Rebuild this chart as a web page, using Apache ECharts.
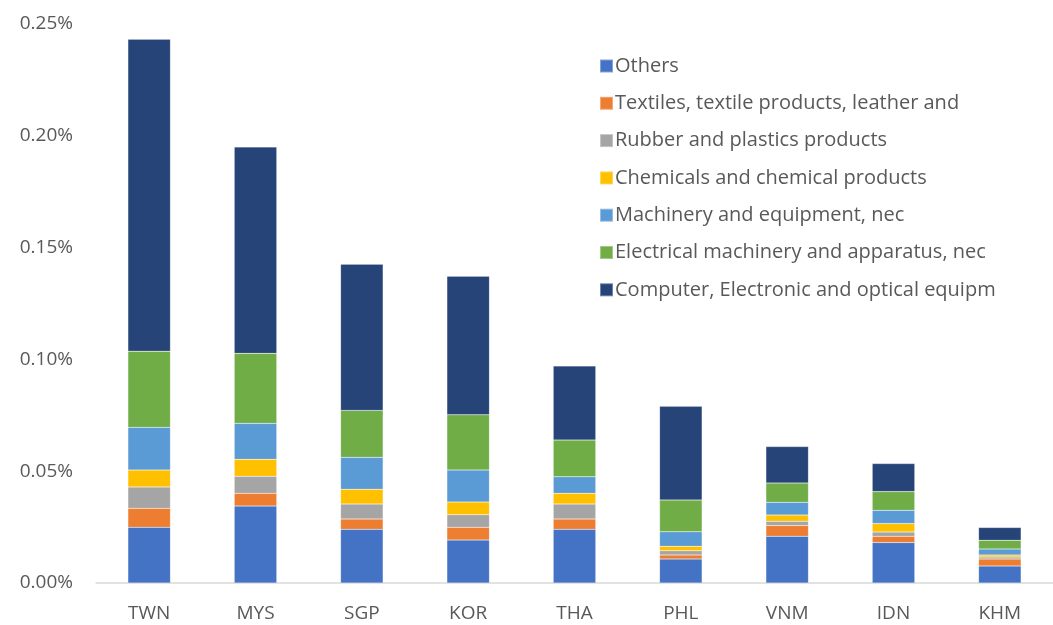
<!DOCTYPE html>
<html>
<head>
<meta charset="utf-8">
<script src="https://cdn.jsdelivr.net/npm/echarts@6/dist/echarts.min.js"></script>
<style>
  html, body { margin: 0; padding: 0; background: #fff; }
  #chart { width: 1053px; height: 625px; }
</style>
</head>
<body>
<div id="chart"></div>
<script>
// values in percent
const countries = ['TWN', 'MYS', 'SGP', 'KOR', 'THA', 'PHL', 'VNM', 'IDN', 'KHM']

const others     = [0.0249, 0.0344, 0.0240, 0.0192, 0.0240, 0.0107, 0.0209, 0.0181, 0.0076]
const textiles   = [0.0085, 0.0057, 0.0046, 0.0057, 0.0046, 0.0018, 0.0048, 0.0028, 0.0031]
const rubber     = [0.0095, 0.0076, 0.0067, 0.0056, 0.0067, 0.0019, 0.0019, 0.0019, 0.0009]
const chemicals  = [0.0076, 0.0076, 0.0066, 0.0057, 0.0048, 0.0020, 0.0028, 0.0038, 0.0009]
const machinery  = [0.0191, 0.0161, 0.0143, 0.0143, 0.0074, 0.0065, 0.0057, 0.0059, 0.0027]
const electrical = [0.0341, 0.0313, 0.0210, 0.0247, 0.0164, 0.0142, 0.0086, 0.0084, 0.0039]
const computer   = [0.1395, 0.0923, 0.0654, 0.0620, 0.0332, 0.0419, 0.0163, 0.0125, 0.0057]

const yTicks = [0, 0.05, 0.10, 0.15, 0.20, 0.25]

const seriesDefs = [
  { name: 'Others', data: others, color: '#4472C4' },
  { name: 'Textiles, textile products, leather and', data: textiles, color: '#ED7D31' },
  { name: 'Rubber and plastics products', data: rubber, color: '#A5A5A5' },
  { name: 'Chemicals and chemical products', data: chemicals, color: '#FFC000' },
  { name: 'Machinery and equipment, nec', data: machinery, color: '#5B9BD5' },
  { name: 'Electrical machinery and apparatus, nec', data: electrical, color: '#70AD47' },
  { name: 'Computer, Electronic and optical equipm', data: computer, color: '#264478' },
]

const font = '"Open Sans", Lato, sans-serif'
const textColor = '#595959'

const chart = echarts.init(document.getElementById('chart'), null, { renderer: 'canvas' })
chart.setOption({
  animation: false,
  backgroundColor: '#fff',
  textStyle: { fontFamily: font },
  grid: { left: 96, top: 24, width: 958, height: 559 },
  legend: {
    orient: 'vertical',
    left: 594,
    top: 51,
    itemWidth: 13,
    itemHeight: 13,
    itemGap: 17.3,
    icon: 'rect',
    textStyle: { color: textColor, fontSize: 20, lineHeight: 20, fontFamily: font, padding: [0, 0, 0, -3] },
    data: seriesDefs.map(s => s.name),
  },
  xAxis: {
    type: 'category',
    data: countries,
    axisLine: { lineStyle: { color: '#D9D9D9', width: 1.5 } },
    axisTick: { show: false },
    axisLabel: { color: textColor, fontSize: 19, margin: 21 },
  },
  yAxis: {
    type: 'value',
    min: yTicks[0],
    max: yTicks[yTicks.length - 1],
    interval: 0.05,
    axisLine: { show: false },
    axisTick: { show: false },
    splitLine: { show: false },
    axisLabel: {
      color: textColor,
      fontSize: 19,
      margin: 23,
      formatter: v => v.toFixed(2) + '%',
    },
  },
  series: seriesDefs.map(s => ({
    name: s.name,
    type: 'bar',
    stack: 'total',
    barWidth: '40%',
    data: s.data,
    itemStyle: { color: s.color, borderColor: 'rgba(255,255,255,0.35)', borderWidth: 0.5 },
  })),
})
</script>
</body>
</html>
